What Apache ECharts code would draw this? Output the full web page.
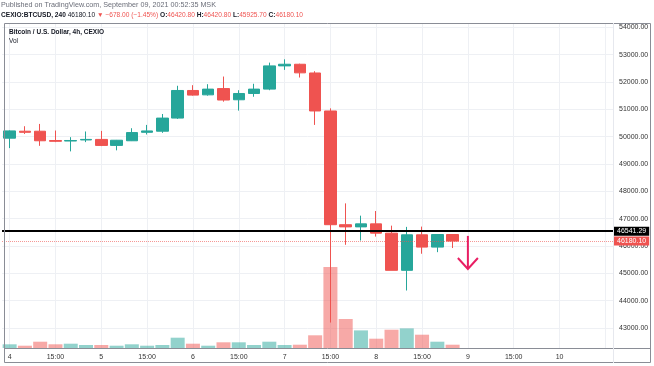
<!DOCTYPE html>
<html><head><meta charset="utf-8">
<script src="https://cdn.jsdelivr.net/npm/echarts@6/dist/echarts.min.js"></script>
<style>html,body{margin:0;padding:0;background:#fff}#c{width:654px;height:366px}</style>
</head><body><div id="c"></div>
<script>
// ---- data ----
const days = ['4','5','6','7','8','9','10'];
const hours = ['03:00','07:00','11:00','15:00','19:00','23:00'];
const tickLabels = ['4','15:00','5','15:00','6','15:00','7','15:00','8','15:00','9','15:00','10'];
const opens  = [49945,50200,50200,49860,49840,49880,49900,49680,49850,50160,50200,50680,51690,51530,51760,51350,51580,51740,52590,52650,52330,50940,46780,46700,46810,46470,45110,46410,45960,46420.8];
const closes = [50211,50160,49850,49830,49860,49900,49680,49870,50150,50210,50680,51690,51520,51740,51340,51580,51740,52590,52650,52335,50940,46780,46700,46810,46470,45110,46410,45960,46420,46180.1];
const lows   = [49582,50100,49665,49800,49462,49800,49655,49500,49840,50080,50140,50648,51500,51500,51280,50953,51460,51700,52443,52164,50430,43200,46045,46200,46345,45110,44372,45717,45775,45925.7];
const highs  = [50230,50382,50466,50225,49982,50190,50211,49880,50309,50430,50830,51862,51884,51920,52200,51700,51935,52709,52830,52670,52394,51036,47560,47110,47280,46745,46700,46710,46430,46420.8];
const volumes = [37,23,63,37,43,30,30,23,37,23,30,103,43,23,57,57,30,63,30,33,127,810,290,176,93,183,196,133,63,33];
const refPrice = 46541.29;
const lastPrice = 46180.10;
const arrowNote = [30, 46370, 45160]; // [bar index, from price, to price]

// ---- build ----
const categories = [];
days.forEach(d => hours.forEach(h => categories.push(d + ' ' + h)));
categories.length = 40;
const candleData = opens.map((o, i) => [o, closes[i], lows[i], highs[i]]);
const GREEN = '#26a69a', RED = '#ef5350';
const volData = volumes.map((v, i) => ({
  value: v,
  itemStyle: { color: closes[i] >= opens[i] ? 'rgba(38,166,154,0.5)' : 'rgba(239,83,80,0.5)' }
}));
const FONT = 'Liberation Sans';

const chart = echarts.init(document.getElementById('c'), null, { renderer: 'canvas' });
chart.setOption({
  animation: false,
  backgroundColor: '#ffffff',
  textStyle: { fontFamily: FONT },
  grid: [
    { left: 2, right: 41, top: -2.8, bottom: 10.65 },
    { left: 2, right: 41, top: 23, bottom: 18 }
  ],
  xAxis: [
    { type: 'category', gridIndex: 0, data: categories, show: false, boundaryGap: true },
    { type: 'category', gridIndex: 1, data: categories, boundaryGap: true,
      axisLine: { show: false }, axisTick: { show: false },
      axisLabel: { interval: 0, fontSize: 7, color: '#333', margin: 6, fontFamily: FONT,
        formatter: (v, idx) => (idx % 3 === 0 && tickLabels[idx / 3]) ? tickLabels[idx / 3] : '' },
      splitLine: { show: true, alignWithLabel: true, interval: (idx) => idx % 3 === 0,
        lineStyle: { color: '#eef0f4', width: 1 } }
    }
  ],
  yAxis: [
    { type: 'value', gridIndex: 0, position: 'right', min: 42000, max: 55000, interval: 1000,
      axisLine: { show: false }, axisTick: { show: false },
      axisLabel: { fontSize: 7, color: '#333', margin: 6, fontFamily: FONT, showMinLabel: false, showMaxLabel: false,
        formatter: v => v.toFixed(2) },
      splitLine: { show: true, showMinLine: false, showMaxLine: false, lineStyle: { color: '#eef0f4', width: 1 } }
    },
    { type: 'value', gridIndex: 1, min: 0, max: 3250, show: false, splitLine: { show: false } }
  ],
  series: [
    { type: 'bar', xAxisIndex: 1, yAxisIndex: 1, data: volData, barWidth: 14, z: 1, silent: true },
    { type: 'candlestick', xAxisIndex: 0, yAxisIndex: 0, data: candleData, barWidth: 12, z: 3,
      itemStyle: { color: GREEN, color0: RED, borderColor: GREEN, borderColor0: RED, borderWidth: 1 },
      markLine: {
        symbol: 'none', silent: true, animation: false,
        data: [
          { yAxis: refPrice, lineStyle: { color: '#000', width: 2, type: 'solid' },
            label: { show: true, position: 'end', distance: 1, formatter: p => Number(p.value).toFixed(2),
              color: '#fff', backgroundColor: '#000', padding: [1, 3, 1, 3], fontSize: 7, fontFamily: FONT } },
          { yAxis: lastPrice, lineStyle: { color: 'rgba(239,83,80,0.6)', width: 1, type: 'dotted' },
            label: { show: true, position: 'end', distance: 1, formatter: p => Number(p.value).toFixed(2),
              color: '#fff', backgroundColor: RED, padding: [1, 3, 1, 3], fontSize: 7, fontFamily: FONT } }
        ]
      }
    },
    { type: 'custom', xAxisIndex: 0, yAxisIndex: 0, z: 5, silent: true, data: [arrowNote],
      renderItem: (params, api) => {
        const p0 = api.coord([api.value(0), api.value(1)]);
        const p1 = api.coord([api.value(0), api.value(2)]);
        const st = { stroke: '#e91e63', lineWidth: 2, fill: null };
        return { type: 'group', children: [
          { type: 'line', shape: { x1: p0[0], y1: p0[1], x2: p1[0], y2: p1[1] }, style: st },
          { type: 'polyline', shape: { points: [[p1[0] - 10, p1[1] - 11], [p1[0], p1[1]], [p1[0] + 10, p1[1] - 11]] }, style: st }
        ] };
      }
    }
  ],
  graphic: [
    { type: 'rect', z: 100, shape: { x: 0, y: 0, width: 654, height: 23 }, style: { fill: '#fff' } },
    { type: 'rect', z: 101, shape: { x: 4.5, y: 23.5, width: 646, height: 339 }, style: { fill: null, stroke: '#8a8d96', lineWidth: 1 } },
    { type: 'line', z: 101, shape: { x1: 4, y1: 348.5, x2: 651, y2: 348.5 }, style: { stroke: '#8a8d96', lineWidth: 1 } },
    { type: 'line', z: 101, shape: { x1: 613.5, y1: 23, x2: 613.5, y2: 363 }, style: { stroke: '#e6e8ee', lineWidth: 1 } },
    { type: 'text', z: 102, x: 1, y: 2, style: { text: 'Published on TradingView.com, September 09, 2021 00:52:35 MSK',
        fontSize: 7.2, fill: '#6a6d78', fontFamily: FONT } },
    { type: 'text', z: 102, x: 1, y: 11.5, style: {
        text: '{b|CEXIO:BTCUSD, 240}{n| 46180.10 }{r|▼ −678.00 (−1.45%) }{b|O:}{r|46420.80 }{b|H:}{r|46420.80 }{b|L:}{r|45925.70 }{b|C:}{r|46180.10}',
        fontSize: 6.6, fontFamily: FONT,
        rich: {
          b: { fontSize: 6.6, fontWeight: 'bold', fill: '#131722', fontFamily: FONT },
          n: { fontSize: 6.6, fill: '#131722', fontFamily: FONT },
          r: { fontSize: 6.6, fill: RED, fontFamily: FONT }
        } } },
    { type: 'text', z: 102, x: 9, y: 29, style: { text: 'Bitcoin / U.S. Dollar, 4h, CEXIO', fontSize: 6.5, fontWeight: 'bold', fill: '#131722', fontFamily: FONT } },
    { type: 'text', z: 102, x: 9, y: 38, style: { text: 'Vol', fontSize: 6.5, fill: '#131722', fontFamily: FONT } }
  ]
});
</script>
</body></html>
